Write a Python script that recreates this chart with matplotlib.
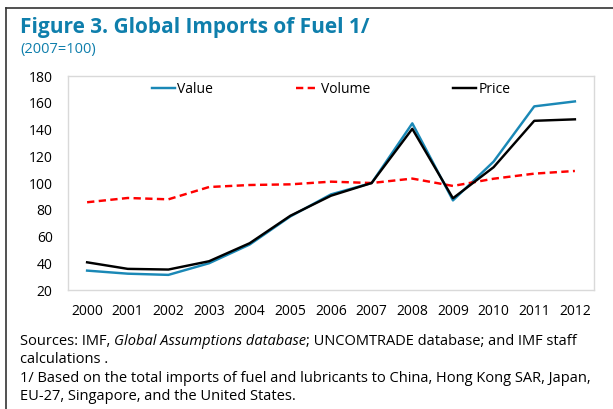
import matplotlib
matplotlib.use('Agg')
import matplotlib.pyplot as plt
from matplotlib.lines import Line2D

plt.rcParams['font.family'] = ['Open Sans', 'DejaVu Sans']

# Data (2007=100)
years = ['2000', '2001', '2002', '2003', '2004', '2005', '2006',
         '2007', '2008', '2009', '2010', '2011', '2012']
value = [34.5, 32.2, 31.3, 40.0, 54.0, 75.0, 91.5, 100.0, 144.6, 87.0, 116.0, 157.3, 161.0]
volume = [85.6, 88.8, 87.8, 97.0, 98.5, 99.0, 101.0, 100.0, 103.3, 97.8, 103.2, 107.0, 109.0]
price = [40.7, 35.8, 35.3, 41.5, 55.0, 75.5, 90.5, 100.0, 140.5, 88.6, 111.8, 146.5, 147.6]

title_blue = '#0f7fac'

fig = plt.figure(figsize=(6.13, 4.09), dpi=100)
ax = fig.add_axes([68 / 613, 1 - 290 / 409, 526 / 613, 214 / 409])

x = range(len(years))
ax.plot(x, value, color='#1a88b6', lw=1.75, label='Value')
ax.plot(x, volume, color='#ff0000', lw=1.75, linestyle=(0, (3, 1.8)), label='Volume')
ax.plot(x, price, color='black', lw=1.75, label='Price')

ax.set_xlim(-0.47, len(years) - 1 + 0.47)
ax.set_ylim(20, 180)
ax.set_yticks(range(20, 181, 20))
ax.set_xticks(list(x))
ax.set_xticklabels(years)
ax.tick_params(axis='both', length=0, labelsize=10, colors='black')
ax.tick_params(axis='y', pad=11)
ax.tick_params(axis='x', pad=10)
for s in ax.spines.values():
    s.set_color('#d9d9d9')
    s.set_linewidth(1)

ax.legend(loc='center', bbox_to_anchor=(0.5, 1 - 13 / 214), ncol=3, frameon=False,
          fontsize=10, handlelength=1.65, handletextpad=0.15, columnspacing=6,
          borderpad=0, borderaxespad=0)

# outer frame (top and left only)
fig.add_artist(Line2D([6 / 613, 6 / 613], [0, 1 - 8 / 409], color='#333333', lw=1.2))
fig.add_artist(Line2D([6 / 613, 1], [1 - 8 / 409, 1 - 8 / 409], color='#333333', lw=1.2))

fig.text(20 / 613, 1 - 27 / 409, 'Figure 3. Global Imports of Fuel 1/', color=title_blue,
         fontsize=15, fontweight='bold', va='center')
fig.text(20 / 613, 1 - 49 / 409, '(2007=100)', color=title_blue, fontsize=10.5, va='center')

# notes under the chart, first line has an italic part
fs = 10.5
renderer = fig.canvas.get_renderer()
base1 = 1 - 345 / 409
xpos = 20 / 613
for part, sty in [('Sources: IMF, ', 'normal'), ('Global Assumptions database', 'italic'),
                  ('; UNCOMTRADE database; and IMF staff', 'normal')]:
    t = fig.text(xpos, base1, part, fontsize=fs, style=sty, va='baseline')
    w = t.get_window_extent(renderer).width
    xpos += w / 613
fig.text(20 / 613, 1 - 363 / 409, 'calculations .', fontsize=fs, va='baseline')
fig.text(20 / 613, 1 - 382 / 409,
         '1/ Based on the total imports of fuel and lubricants to China, Hong Kong SAR, Japan,',
         fontsize=fs, va='baseline')
fig.text(20 / 613, 1 - 400 / 409, 'EU-27, Singapore, and the United States.', fontsize=fs,
         va='baseline')

fig.savefig('out.png', dpi=100)
